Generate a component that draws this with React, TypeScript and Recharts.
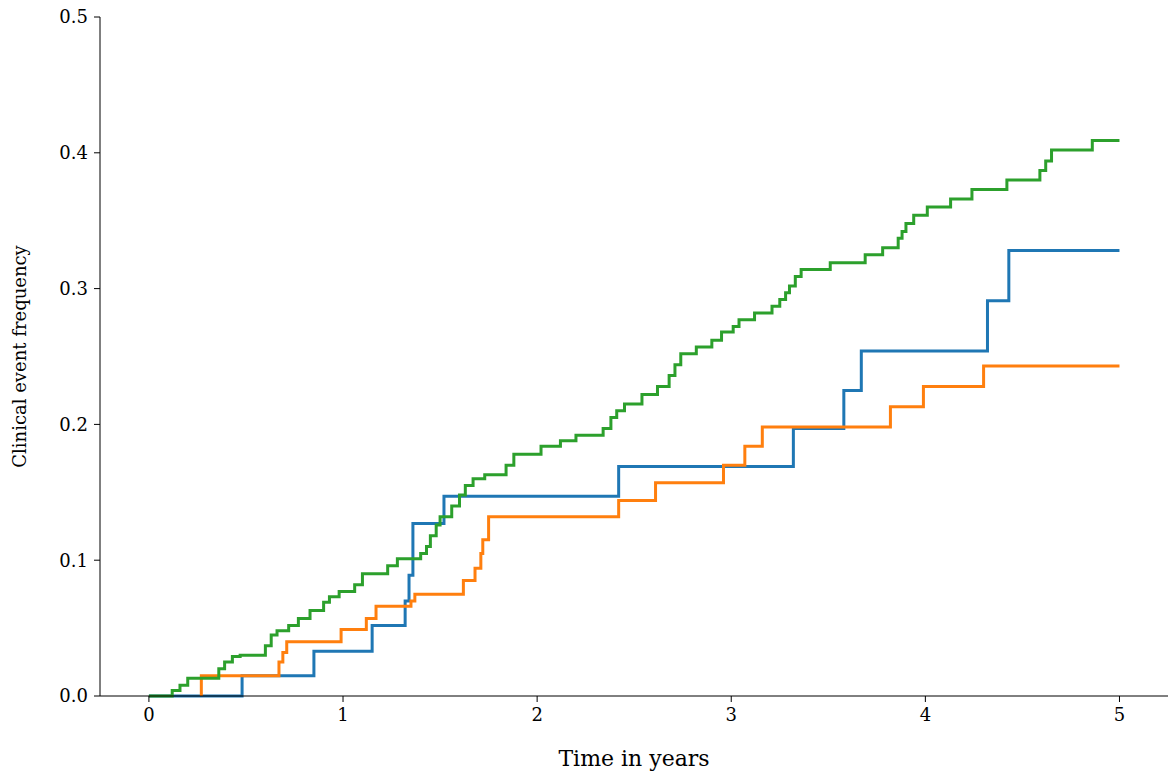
import { LineChart, Line, XAxis, YAxis } from "recharts"

const xTicks = [0, 1, 2, 3, 4, 5]
const yTicks = [0, 0.1, 0.2, 0.3, 0.4, 0.5]

const blueT = [0, 0.48, 0.85, 1.15, 1.32, 1.34, 1.36, 1.39, 1.52, 2.42, 3.32, 3.58, 3.67, 4.32, 4.43, 5.0]
const blueY = [0, 0.015, 0.033, 0.052, 0.07, 0.089, 0.127, 0.127, 0.147, 0.169, 0.197, 0.225, 0.254, 0.291, 0.328, 0.328]

const orangeT = [0.27, 0.27, 0.67, 0.69, 0.71, 0.99, 1.12, 1.17, 1.35, 1.37, 1.62, 1.68, 1.71, 1.72, 1.75, 2.42, 2.61, 2.96, 3.07, 3.16, 3.82, 3.99, 4.3, 5.0]
const orangeY = [0, 0.015, 0.025, 0.032, 0.04, 0.049, 0.057, 0.066, 0.07, 0.075, 0.085, 0.094, 0.105, 0.115, 0.132, 0.144, 0.157, 0.17, 0.184, 0.198, 0.213, 0.228, 0.243, 0.243]

const greenT = [0, 0.12, 0.16, 0.2, 0.36, 0.39, 0.43, 0.47, 0.6, 0.63, 0.66, 0.72, 0.77, 0.83, 0.9, 0.93, 0.98, 1.06, 1.1, 1.23, 1.28, 1.4, 1.43, 1.45, 1.48, 1.5, 1.56, 1.6, 1.63, 1.67, 1.73, 1.84, 1.88, 2.02, 2.12, 2.2, 2.34, 2.38, 2.41, 2.45, 2.54, 2.62, 2.68, 2.71, 2.74, 2.82, 2.9, 2.95, 3.01, 3.04, 3.12, 3.21, 3.25, 3.28, 3.3, 3.33, 3.36, 3.51, 3.69, 3.78, 3.86, 3.88, 3.9, 3.94, 4.01, 4.13, 4.24, 4.42, 4.59, 4.62, 4.65, 4.86, 5.0]
const greenY = [0, 0.004, 0.008, 0.013, 0.02, 0.025, 0.029, 0.03, 0.037, 0.045, 0.048, 0.052, 0.057, 0.063, 0.069, 0.073, 0.077, 0.082, 0.09, 0.096, 0.101, 0.105, 0.11, 0.118, 0.126, 0.132, 0.14, 0.148, 0.155, 0.16, 0.163, 0.17, 0.178, 0.184, 0.188, 0.192, 0.197, 0.205, 0.21, 0.215, 0.222, 0.228, 0.236, 0.244, 0.252, 0.257, 0.262, 0.268, 0.272, 0.277, 0.282, 0.287, 0.292, 0.297, 0.302, 0.309, 0.314, 0.319, 0.325, 0.33, 0.337, 0.342, 0.348, 0.354, 0.36, 0.366, 0.373, 0.38, 0.387, 0.394, 0.402, 0.409, 0.409]

const zip = (t: number[], y: number[]) => t.map((v, i) => ({ t: v, y: y[i] }))

const font = "DejaVu Serif"
const tick = { fill: "#000", fontFamily: font, fontSize: 18 }

export default function App() {
    return (
        <div style={{ position: "absolute", left: 0, top: 0, width: 1169, height: 776, background: "#fff" }}>
            <LineChart width={1169} height={776} margin={{ top: 17, right: 1, left: 30, bottom: 20 }}>
                <XAxis
                    dataKey="t"
                    type="number"
                    domain={[-0.252, 5.25]}
                    ticks={xTicks}
                    tick={tick}
                    tickSize={6}
                    tickMargin={6}
                    height={60}
                    stroke="#000"
                    allowDataOverflow
                    label={{ value: "Time in years", position: "insideBottom", offset: -10, fill: "#000", fontFamily: font, fontSize: 22 }}
                />
                <YAxis
                    type="number"
                    domain={[0, 0.5]}
                    ticks={yTicks}
                    tickFormatter={(v: number) => v.toFixed(1)}
                    tick={tick}
                    width={70}
                    tickSize={6}
                    tickMargin={6}
                    stroke="#000"
                    label={{ value: "Clinical event frequency", angle: -90, position: "insideLeft", offset: -10, fill: "#000", fontFamily: font, fontSize: 18, style: { textAnchor: "middle" } }}
                />
                <Line data={zip(blueT, blueY)} dataKey="y" type="stepAfter" stroke="#1f77b4" strokeWidth={3} dot={false} isAnimationActive={false} />
                <Line data={zip(orangeT, orangeY)} dataKey="y" type="stepAfter" stroke="#ff7f0e" strokeWidth={3} dot={false} isAnimationActive={false} />
                <Line data={zip(greenT, greenY)} dataKey="y" type="stepAfter" stroke="#2ca02c" strokeWidth={3} dot={false} isAnimationActive={false} />
            </LineChart>
        </div>
    )
}
